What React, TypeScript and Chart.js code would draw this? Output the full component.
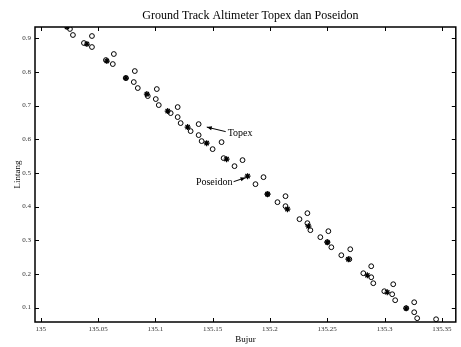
import React, { useEffect, useRef } from "react";
import { Chart, registerables } from "chart.js";

Chart.register(...registerables);

// Topex (circles)
const topexLon = [
  135.0255, 135.0281, 135.0377, 135.0447, 135.0447, 135.0569, 135.0629, 135.0638,
  135.0743, 135.0812, 135.0847, 135.0821, 135.0934, 135.1004, 135.103, 135.1013,
  135.1134, 135.1195, 135.1195, 135.1221, 135.1308, 135.1378, 135.1378, 135.1404,
  135.15, 135.1578, 135.1596, 135.1691, 135.1761, 135.1874, 135.1944, 135.1979,
  135.2066, 135.2136, 135.2136, 135.2258, 135.2327, 135.2327, 135.2353, 135.244,
  135.251, 135.2501, 135.2536, 135.2623, 135.2701, 135.2693, 135.2815, 135.2884,
  135.2884, 135.2902, 135.2998, 135.3076, 135.3067, 135.3093, 135.3189, 135.3259,
  135.3259, 135.3285, 135.345,
];
const topexLat = [
  0.9277, 0.9098, 0.886, 0.8741, 0.9068, 0.8354, 0.8235, 0.8533,
  0.7819, 0.77, 0.7522, 0.8027, 0.7284, 0.7195, 0.7016, 0.7492,
  0.6778, 0.6957, 0.666, 0.6481, 0.6243, 0.6451, 0.6124, 0.5946,
  0.5708, 0.5916, 0.544, 0.5202, 0.5381, 0.4667, 0.4875, 0.437,
  0.4132, 0.431, 0.4013, 0.3627, 0.3805, 0.3508, 0.33, 0.3092,
  0.327, 0.2943, 0.2793, 0.2556, 0.2734, 0.2437, 0.2021, 0.2229,
  0.1902, 0.1724, 0.1486, 0.1694, 0.1397, 0.1219, 0.0981, 0.1159,
  0.0862, 0.0684, 0.0654,
];

// Poseidon (stars)
const poseidonLon = [
  135.0229, 135.0403, 135.0577, 135.0743, 135.0926, 135.1108, 135.1282, 135.1448,
  135.1622, 135.1805, 135.1979, 135.2153, 135.2336, 135.2501, 135.2684, 135.285,
  135.3024, 135.3189,
];
const poseidonLat = [
  0.9336, 0.883, 0.8325, 0.7819, 0.7343, 0.6838, 0.6362, 0.5886,
  0.541, 0.4905, 0.437, 0.3924, 0.3418, 0.2943, 0.2437, 0.1961,
  0.1456, 0.0981,
];

const xTicks = [135, 135.05, 135.1, 135.15, 135.2, 135.25, 135.3, 135.35];
const xTickLabels = ["135", "135.05", "135.1", "135.15", "135.2", "135.25", "135.3", "135.35"];
const yTicks = [0.1, 0.2, 0.3, 0.4, 0.5, 0.6, 0.7, 0.8, 0.9];
const yTickLabels = ["0.1", "0.2", "0.3", "0.4", "0.5", "0.6", "0.7", "0.8", "0.9"];

const titleText = "Ground Track Altimeter Topex dan Poseidon";
const xTitle = "Bujur";
const yTitle = "Lintang";

const SERIF = "'Liberation Serif', 'DejaVu Serif', serif";

function drawArrowHead(ctx: CanvasRenderingContext2D, fx: number, fy: number, tx: number, ty: number) {
  const ang = Math.atan2(ty - fy, tx - fx);
  const len = 5;
  const w = 2;
  ctx.beginPath();
  ctx.moveTo(tx, ty);
  ctx.lineTo(tx - len * Math.cos(ang) + w * Math.sin(ang), ty - len * Math.sin(ang) - w * Math.cos(ang));
  ctx.lineTo(tx - len * Math.cos(ang) - w * Math.sin(ang), ty - len * Math.sin(ang) + w * Math.cos(ang));
  ctx.closePath();
  ctx.fill();
}

const decorPlugin = {
  id: "decor",
  afterDraw(chart: any) {
    const ctx: CanvasRenderingContext2D = chart.ctx;
    const { left, right, top, bottom } = chart.chartArea;
    const xs = chart.scales.x;
    const ys = chart.scales.y;
    ctx.save();
    ctx.strokeStyle = "#000";
    ctx.fillStyle = "#000";
    // box
    ctx.lineWidth = 1.5;
    ctx.strokeRect(left, top, right - left, bottom - top);
    // ticks inward
    ctx.lineWidth = 1;
    const tl = 4;
    ctx.beginPath();
    xTicks.forEach((v) => {
      const px = Math.round(xs.getPixelForValue(v)) + 0.5;
      ctx.moveTo(px, bottom);
      ctx.lineTo(px, bottom - tl);
      ctx.moveTo(px, top);
      ctx.lineTo(px, top + tl);
    });
    yTicks.forEach((v) => {
      const py = Math.round(ys.getPixelForValue(v)) + 0.5;
      ctx.moveTo(left, py);
      ctx.lineTo(left + tl, py);
      ctx.moveTo(right, py);
      ctx.lineTo(right - tl, py);
    });
    ctx.stroke();

    // titles
    ctx.fillStyle = "#000";
    ctx.textAlign = "center";
    ctx.textBaseline = "middle";
    ctx.font = `12px ${SERIF}`;
    ctx.fillText(titleText, (left + right) / 2 + 5, 16);
    ctx.font = `9px ${SERIF}`;
    ctx.fillText(xTitle, (left + right) / 2, 340);
    ctx.save();
    ctx.translate(18, (top + bottom) / 2);
    ctx.rotate(-Math.PI / 2);
    ctx.font = `9px ${SERIF}`;
    ctx.fillText(yTitle, 0, 0);
    ctx.restore();

    // annotations
    ctx.font = `10px ${SERIF}`;
    ctx.lineWidth = 1;
    // Topex
    const tTextX = xs.getPixelForValue(135.1631);
    const tTextY = ys.getPixelForValue(0.6184);
    ctx.textAlign = "left";
    ctx.fillText("Topex", tTextX, tTextY);
    const tTailX = xs.getPixelForValue(135.1614);
    const tTailY = ys.getPixelForValue(0.6228);
    const tHeadX = xs.getPixelForValue(135.1449);
    const tHeadY = ys.getPixelForValue(0.6362);
    ctx.beginPath();
    ctx.moveTo(tTailX, tTailY);
    ctx.lineTo(tHeadX, tHeadY);
    ctx.stroke();
    drawArrowHead(ctx, tTailX, tTailY, tHeadX, tHeadY);
    // Poseidon
    const pTextX = xs.getPixelForValue(135.1674);
    const pTextY = ys.getPixelForValue(0.4726);
    ctx.textAlign = "right";
    ctx.fillText("Poseidon", pTextX, pTextY);
    const pTailX = xs.getPixelForValue(135.1683);
    const pTailY = ys.getPixelForValue(0.4741);
    const pHeadX = xs.getPixelForValue(135.1787);
    const pHeadY = ys.getPixelForValue(0.486);
    ctx.beginPath();
    ctx.moveTo(pTailX, pTailY);
    ctx.lineTo(pHeadX, pHeadY);
    ctx.stroke();
    drawArrowHead(ctx, pTailX, pTailY, pHeadX, pHeadY);
    ctx.restore();
  },
};

export default function App() {
  const ref = useRef<HTMLCanvasElement | null>(null);
  useEffect(() => {
    if (!ref.current) return;
    const topex = topexLon.map((x, i) => ({ x, y: topexLat[i] }));
    const poseidon = poseidonLon.map((x, i) => ({ x, y: poseidonLat[i] }));
    const chart = new Chart(ref.current, {
      type: "scatter",
      data: {
        datasets: [
          {
            label: "Topex",
            data: topex,
            pointStyle: "circle",
            pointRadius: 2.4,
            borderColor: "#000",
            borderWidth: 1,
            backgroundColor: "rgba(0,0,0,0)",
          },
          {
            label: "Poseidon",
            data: poseidon,
            pointStyle: "star",
            pointRadius: 3,
            borderColor: "#000",
            borderWidth: 1.2,
            backgroundColor: "#000",
          },
        ],
      },
      options: {
        responsive: false,
        animation: false,
        layout: { padding: { top: 27, right: 4, left: 0, bottom: 0 } },
        plugins: {
          legend: { display: false },
          title: { display: false },
          tooltip: { enabled: false },
        },
        scales: {
          x: {
            type: "linear",
            min: 134.995,
            max: 135.3622,
            grid: { display: false, drawTicks: false },
            border: { display: false },
            afterBuildTicks: (scale: any) => {
              scale.ticks = xTicks.map((v) => ({ value: v }));
            },
            afterFit: (scale: any) => {
              scale.height = 25;
            },
            ticks: {
              padding: 3,
              maxRotation: 0,
              autoSkip: false,
              color: "#333",
              font: { family: SERIF, size: 7 },
              callback: (_v: any, i: number) => xTickLabels[i],
            },
          },
          y: {
            type: "linear",
            min: 0.0572,
            max: 0.9336,
            grid: { display: false, drawTicks: false },
            border: { display: false },
            afterBuildTicks: (scale: any) => {
              scale.ticks = yTicks.map((v) => ({ value: v }));
            },
            afterFit: (scale: any) => {
              scale.width = 35;
            },
            ticks: {
              padding: 4,
              autoSkip: false,
              color: "#333",
              font: { family: SERIF, size: 7 },
              callback: (_v: any, i: number) => yTickLabels[i],
            },
          },
        },
      },
      plugins: [decorPlugin],
    });
    return () => chart.destroy();
  }, []);
  return (
    <div style={{ position: "absolute", left: 0, top: 0, width: 461, height: 347, background: "#fff" }}>
      <canvas ref={ref} width={461} height={347} />
    </div>
  );
}
